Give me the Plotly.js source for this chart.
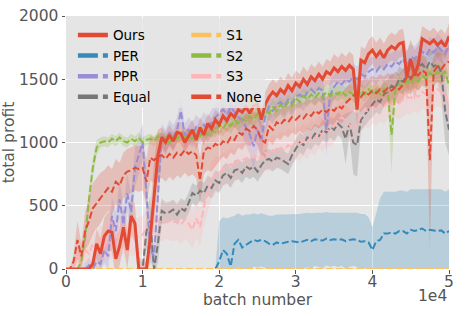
<!DOCTYPE html>
<html><head><meta charset="utf-8">
<script src="https://cdn.plot.ly/plotly-3.0.1.min.js"></script>
<style>html,body{margin:0;padding:0;background:#fff}#chart{width:473px;height:316px}</style>
</head><body><div id="chart"></div>
<script>
// batch number (x)
const batches = [
 0,500,1000,1500,2000,2500,3000,3500,4000,4500,
 5000,5500,6000,6500,7000,7500,8000,8500,9000,9500,
 10000,10500,11000,11500,12000,12500,13000,13500,14000,14500,
 15000,15500,16000,16500,17000,17500,18000,18500,19000,19500,
 20000,20500,21000,21500,22000,22500,23000,23500,24000,24500,
 25000,25500,26000,26500,27000,27500,28000,28500,29000,29500,
 30000,30500,31000,31500,32000,32500,33000,33500,34000,34500,
 35000,35500,36000,36500,37000,37500,38000,38500,39000,39500,
 40000,40500,41000,41500,42000,42500,43000,43500,44000,44500,
 45000,45500,46000,46500,47000,47500,48000,48500,49000,49500,
 50000];

const ours = [
 0,0,0,0,0,0,0,40,200,120,
 260,300,290,80,180,330,150,420,360,0,
 0,0,250,600,900,1040,1000,1060,1010,1080,
 1070,1000,1050,1100,1020,1120,1060,1150,1110,1180,
 1140,1210,1170,1230,1200,1260,1240,1280,1230,1290,
 1300,1180,1300,1360,1400,1370,1420,1390,1450,1410,
 1470,1440,1500,1460,1520,1490,1540,1500,1560,1540,
 1590,1560,1600,1570,1610,1580,1260,1650,1630,1700,
 1730,1680,1720,1670,1730,1760,1740,1780,1790,1520,
 1660,1530,1620,1820,1800,1780,1810,1770,1800,1760,
 1840];
const oursSpread = [
 0,0,0,0,0,0,0,60,120,120,
 150,150,150,150,150,150,150,150,150,100,
 60,60,200,250,200,80,80,80,80,80,
 80,80,80,80,80,80,80,80,80,80,
 90,90,90,90,90,90,90,90,90,90,
 100,100,100,100,100,100,100,100,100,100,
 100,100,100,100,100,100,100,100,100,100,
 110,110,110,110,110,110,150,110,110,110,
 110,110,110,110,110,110,110,110,110,200,
 150,200,150,100,100,100,100,100,100,100,
 100];

const per = [
 0,0,0,0,0,0,0,0,0,0,
 0,0,0,0,0,0,0,0,0,0,
 0,0,0,0,0,0,0,0,0,0,
 0,0,0,0,0,0,0,0,0,0,
 60,150,120,20,200,230,170,190,210,230,
 220,230,220,200,190,210,200,210,215,220,
 215,210,220,230,220,235,230,225,240,230,
 235,230,235,220,230,235,230,215,220,210,
 150,220,230,280,280,290,280,300,300,280,
 310,300,310,320,300,310,305,300,305,280,
 300];
const perSpread = [
 0,0,0,0,0,0,0,0,0,0,
 0,0,0,0,0,0,0,0,0,0,
 0,0,0,0,0,0,0,0,0,0,
 0,0,0,0,0,0,0,0,0,0,
 320,260,280,390,220,210,250,240,220,210,
 210,210,210,220,230,220,230,220,220,215,
 220,225,220,215,220,210,215,220,210,215,
 210,215,210,220,215,210,215,220,215,200,
 180,220,330,330,330,320,330,320,320,330,
 320,330,320,310,330,320,325,330,325,330,
 330];

const ppr = [
 0,0,0,0,0,0,30,0,60,40,
 150,100,420,300,550,350,600,450,800,900,
 1000,600,150,100,600,1050,1000,1080,1040,1100,
 1250,1050,1100,1060,1120,1080,1140,1100,1160,1200,
 1230,1260,1220,1280,1240,1200,1180,1120,1060,970,
 1100,1020,1200,1280,1250,1300,1320,1290,1340,1310,
 1360,1380,1350,1400,1420,1390,1430,1410,1100,1380,
 1440,1480,1460,1500,1480,1520,1500,1540,1520,1560,
 1580,1560,1600,1580,1620,1600,1640,1620,1660,1600,
 1680,1660,1700,1720,1690,1740,1710,1760,1730,1700,
 1770];
const pprSpread = [
 0,0,0,0,0,50,60,30,80,60,
 100,100,150,150,150,150,150,150,150,150,
 150,150,100,100,150,100,100,100,100,100,
 100,100,100,100,100,100,100,100,100,100,
 100,100,100,100,100,120,120,150,150,200,
 150,150,120,100,100,100,100,100,100,100,
 100,100,100,100,100,100,100,100,200,120,
 100,100,100,100,100,100,100,100,100,100,
 100,100,100,100,100,100,100,100,100,120,
 100,100,100,100,100,100,100,100,100,100,
 100];

const equal = [
 0,0,0,0,0,0,0,0,0,0,
 0,0,0,0,0,0,0,0,0,0,
 0,300,380,0,200,460,440,450,470,430,
 480,460,520,600,580,620,600,660,640,700,
 680,740,760,720,780,790,760,810,790,810,
 770,820,860,870,850,880,870,850,830,900,
 950,1000,980,1040,1020,1070,1050,1100,1080,1120,
 1100,1150,1120,1030,1150,1000,980,1180,1220,1260,
 1300,1340,1320,1380,1400,1450,1430,1500,1480,1530,
 1510,1560,1590,1620,1580,1640,1600,1620,1550,1250,
 1100];
const equalSpread = [
 0,0,0,0,0,0,0,0,0,0,
 0,0,0,0,0,0,0,0,0,0,
 0,150,200,50,150,100,80,80,80,80,
 80,80,80,80,80,80,80,80,80,80,
 80,80,80,80,80,80,80,80,80,80,
 80,80,80,80,80,80,80,80,80,80,
 80,80,80,80,80,80,80,80,80,80,
 90,90,90,200,90,250,250,90,90,90,
 100,100,100,100,100,100,100,100,100,100,
 100,100,100,100,100,100,100,150,200,250,
 200];

const s1 = [
 0,0,0,0,0,0,0,0,0,0,
 0,0,0,0,0,0,0,0,0,0,
 0,0,0,0,0,0,0,0,0,0,
 0,0,0,0,0,0,0,0,0,0,
 0,0,0,0,0,0,0,0,0,0,
 0,0,0,0,0,0,0,0,0,0,
 0,0,0,0,0,0,0,0,0,0,
 0,0,0,0,0,0,0,0,0,0,
 0,0,0,0,0,0,0,0,0,0,
 0,0,0,0,0,0,0,0,0,0,
 0];

const s2 = [
 0,0,0,0,60,250,550,800,960,1000,
 1010,1000,1030,1010,1040,1010,1000,1030,1010,1040,
 1000,1020,1030,1010,1050,1020,1040,1000,1050,1030,
 1060,1040,1050,1030,1070,1050,1090,1060,1100,1080,
 1140,1110,1160,1130,1180,1150,1190,1170,1210,1180,
 1230,1200,1250,1230,1280,1250,1300,1270,1320,1290,
 1350,1320,1370,1340,1380,1350,1390,1360,1400,1370,
 1400,1380,1410,1370,1400,1380,1350,1410,1380,1420,
 1390,1410,1380,1420,1400,1060,1420,1460,1440,1490,
 1460,1510,1480,1530,1500,1550,1520,1560,1530,1560,
 1450];
const s2Spread = [
 0,0,0,0,40,80,80,80,60,40,
 40,40,40,40,40,40,40,40,40,40,
 40,40,40,40,40,40,40,40,40,40,
 40,40,40,40,40,40,40,40,40,40,
 60,60,60,60,60,60,60,60,60,60,
 60,60,60,60,60,60,60,60,60,60,
 60,60,60,60,60,60,60,60,60,60,
 60,60,60,60,60,60,60,60,60,60,
 60,60,60,60,60,300,60,60,60,60,
 70,70,70,70,70,70,70,70,70,70,
 70];

const s3 = [
 0,0,0,100,50,150,120,200,150,220,
 180,250,230,260,250,270,240,260,250,260,
 270,330,360,370,380,370,390,380,370,380,
 350,390,360,310,400,330,490,600,700,740,
 760,790,800,830,810,850,870,860,890,880,
 900,870,920,900,940,920,960,940,980,960,
 1000,980,1020,1000,1050,1030,1080,1060,1100,1090,
 1130,1180,1200,1170,1140,1100,1150,1200,1260,1240,
 1280,1260,1300,1280,1320,1300,1330,1310,1340,1360,
 1350,1380,1360,1400,1380,1410,1390,1420,1400,1380,
 1300];
const s3Spread = [
 0,0,0,80,80,100,100,120,120,130,
 150,150,150,150,150,150,150,150,150,150,
 150,150,150,150,150,150,150,150,150,150,
 150,150,150,150,150,150,150,150,150,150,
 130,130,130,130,130,130,130,130,130,130,
 130,130,130,130,130,130,130,130,130,130,
 130,130,130,130,130,130,130,130,130,130,
 130,130,130,130,130,130,130,130,130,130,
 130,130,130,130,130,130,130,130,130,130,
 130,130,130,130,130,130,130,130,130,130,
 130];

const none = [
 0,0,60,230,100,300,380,480,520,560,
 600,640,610,690,660,740,770,780,800,790,
 800,690,880,860,890,900,870,910,880,920,
 900,940,910,930,900,700,930,960,950,990,
 970,1010,990,1040,1020,1080,1060,1110,1090,1130,
 1100,1020,1000,1130,1100,1160,1140,1180,1160,1200,
 1180,1210,1190,1230,1210,1250,1230,1260,1240,1270,
 1250,1290,1270,1310,1340,1370,1390,1360,1400,1380,
 1410,1390,1420,1400,1430,1410,1440,1420,1460,1520,
 1500,1550,1530,1570,1550,860,1560,1600,1580,1620,
 1640];
const noneSpread = [
 0,0,60,150,100,150,180,200,200,200,
 180,180,180,180,180,180,180,180,180,180,
 180,180,180,180,180,180,180,180,180,180,
 180,180,180,180,180,180,180,180,180,180,
 120,120,120,120,120,120,120,120,120,120,
 120,120,120,120,120,120,120,120,120,120,
 120,120,120,120,120,120,120,120,120,120,
 120,120,120,120,120,120,120,120,120,120,
 120,120,120,120,120,120,120,120,120,120,
 120,120,120,120,120,700,120,120,120,120,
 120];

const xTickVals = [0,10000,20000,30000,40000,50000];
const xTickText = ['0','1','2','3','4','5'];
const yTickVals = [0,500,1000,1500,2000];

const series = [
 {name:'Ours',  y:ours,  sp:oursSpread,  color:'#E24A33', rgb:'226,74,51',  dash:'solid', w:3,   legend:'legend'},
 {name:'PER',   y:per,   sp:perSpread,   color:'#348ABD', rgb:'52,138,189', dash:'7px,3px', w:2, legend:'legend'},
 {name:'PPR',   y:ppr,   sp:pprSpread,   color:'#988ED5', rgb:'152,142,213',dash:'7px,3px', w:2, legend:'legend'},
 {name:'Equal', y:equal, sp:equalSpread, color:'#777777', rgb:'119,119,119',dash:'7px,3px', w:2, legend:'legend'},
 {name:'S1',    y:s1,    sp:null,        color:'#FBC15E', rgb:'251,193,94', dash:'7px,3px', w:2, legend:'legend2'},
 {name:'S2',    y:s2,    sp:s2Spread,    color:'#8EBA42', rgb:'142,186,66', dash:'7px,3px', w:2, legend:'legend2'},
 {name:'S3',    y:s3,    sp:s3Spread,    color:'#FFB5B8', rgb:'255,181,184',dash:'7px,3px', w:2, legend:'legend2'},
 {name:'None',  y:none,  sp:noneSpread,  color:'#E24A33', rgb:'226,74,51',  dash:'7px,3px', w:2, legend:'legend2'}
];

const traces = [];
series.forEach(s => {
  if (!s.sp) return;
  const lo = s.y.map((v,i) => v - s.sp[i]);
  const hi = s.y.map((v,i) => v + s.sp[i]);
  traces.push({x:batches, y:lo, type:'scatter', mode:'lines', line:{width:0, color:s.color}, showlegend:false, hoverinfo:'skip'});
  traces.push({x:batches, y:hi, type:'scatter', mode:'lines', line:{width:0, color:s.color}, fill:'tonexty', fillcolor:'rgba('+s.rgb+',0.25)', showlegend:false, hoverinfo:'skip'});
});
const drawOrder = ['PER','Equal','S3','PPR','S2','S1','None','Ours'];
drawOrder.forEach(n => {
  const s = series.find(q => q.name === n);
  traces.push({x:batches, y:s.y, type:'scatter', mode:'lines', name:s.name, line:{color:s.color, width:s.w, dash:s.dash}, showlegend:false});
});
// legend entries
series.forEach(s => {
  traces.push({x:[null], y:[null], type:'scatter', mode:'lines', name:s.name, legend:s.legend,
    line:{color:s.color, width:4.5, dash: s.dash === 'solid' ? 'solid' : '20px,5px'}});
});

const tickFont = {family:'DejaVu Sans', size:15.5, color:'#555555'};
const legFont = {family:'DejaVu Sans', size:13.5, color:'#000000'};
const layout = {
  width:473, height:316,
  margin:{l:66, r:24, t:16, b:47},
  paper_bgcolor:'#ffffff', plot_bgcolor:'#E5E5E5',
  font:{family:'DejaVu Sans', color:'#555555'},
  xaxis:{range:[0,50000], tickvals:xTickVals, ticktext:xTickText, showgrid:true, gridcolor:'#ffffff', gridwidth:1,
    zeroline:false, showline:false, ticks:'outside', ticklen:3.5, tickcolor:'#555555', tickfont:tickFont,
    ticklabelstandoff:-5,
    title:{text:'batch number', font:{family:'DejaVu Sans', size:15.5, color:'#555555'}, standoff:0}, automargin:false},
  yaxis:{range:[0,2000], tickvals:yTickVals, showgrid:true, gridcolor:'#ffffff', gridwidth:1,
    zeroline:false, showline:false, ticks:'outside', ticklen:3.5, tickcolor:'#555555', tickfont:tickFont,
    title:{text:'total profit', font:{family:'DejaVu Sans', size:15.5, color:'#555555'}, standoff:4}, automargin:false},
  legend:{x:0.018, y:0.985, xanchor:'left', yanchor:'top', bgcolor:'rgba(0,0,0,0)', borderwidth:0,
    font:legFont, itemwidth:30, traceorder:'normal'},
  legend2:{x:0.314, y:0.985, xanchor:'left', yanchor:'top', bgcolor:'rgba(0,0,0,0)', borderwidth:0,
    font:legFont, itemwidth:30, traceorder:'normal'},
  shapes:[{type:'rect', xref:'paper', yref:'paper', x0:0.005, x1:0.52, y0:0.636, y1:0.992,
    fillcolor:'rgba(229,229,229,0.8)', line:{width:0}, layer:'above'}],
  annotations:[{text:'1e4', xref:'paper', yref:'paper', x:1.0, y:-0.107, xanchor:'right', yanchor:'middle',
    showarrow:false, font:{family:'DejaVu Sans', size:15.5, color:'#555555'}}],
  showlegend:true
};
Plotly.newPlot('chart', traces, layout, {staticPlot:true, displayModeBar:false});
</script></body></html>
